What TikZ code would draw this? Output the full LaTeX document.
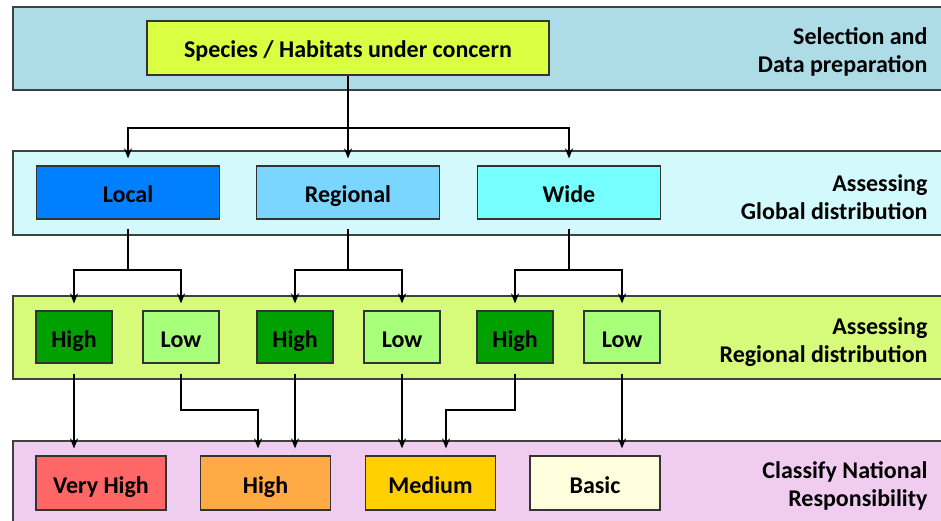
\documentclass[tikz,border=0pt]{standalone}
\usepackage{fontspec}
\setmainfont{Carlito}
\usetikzlibrary{arrows.meta}
\definecolor{bandA}{RGB}{173,220,230}
\definecolor{bandB}{RGB}{210,250,252}
\definecolor{bandC}{RGB}{214,250,122}
\definecolor{bandD}{RGB}{240,205,240}
\definecolor{species}{RGB}{218,255,66}
\definecolor{local}{RGB}{0,128,255}
\definecolor{regional}{RGB}{122,213,255}
\definecolor{wide}{RGB}{117,255,255}
\definecolor{highgreen}{RGB}{0,160,0}
\definecolor{lowgreen}{RGB}{168,255,122}
\definecolor{veryhigh}{RGB}{255,102,102}
\definecolor{highorange}{RGB}{255,170,68}
\definecolor{medium}{RGB}{255,208,0}
\definecolor{basic}{RGB}{255,255,221}
\begin{document}
\begin{tikzpicture}[x=1pt, y=-1pt, line join=miter,
	band/.style={draw=black!75, line width=1.3pt},
	box/.style={draw=black!80, line width=1.2pt, font=\fontsize{24}{28}\selectfont\bfseries, inner sep=0pt, text height=30pt, text depth=10pt},
	gbox/.style={box, minimum width=183pt, minimum height=53pt},
	rbox/.style={box, minimum width=76pt, minimum height=52pt},
	cbox/.style={box, minimum width=130pt, minimum height=54pt},
	tag/.style={anchor=east, align=right, font=\fontsize{24}{28}\selectfont\bfseries},
	link/.style={line width=1.8pt},
	arr/.style={link, -{Stealth[length=10pt, width=8pt]}, shorten >=7pt}]
	\useasboundingbox (0,0) rectangle (941,521);
	% bands
	\filldraw[band, fill=bandA] (13,7) rectangle (960,90);
	\filldraw[band, fill=bandB] (13,151) rectangle (960,235);
	\filldraw[band, fill=bandC] (13,296) rectangle (960,379);
	\filldraw[band, fill=bandD] (13,441) rectangle (960,540);
	\node[tag] (tA) at (931,52) {Selection and\\Data preparation};
	\node[tag] (tB) at (931,197) {Assessing\\Global distribution};
	\node[tag] (tC) at (931,342) {Assessing\\Regional distribution};
	\node[tag] (tD) at (931,486) {Classify National\\Responsibility};
	% boxes
	\node[box, fill=species, minimum width=402pt, minimum height=54pt] (spc) at (348,48) {Species / Habitats under concern};
	\node[gbox, fill=local] (loc) at (128,192.5) {Local};
	\node[gbox, fill=regional] (reg) at (348,192.5) {Regional};
	\node[gbox, fill=wide] (wid) at (569,192.5) {Wide};
	\node[rbox, fill=highgreen] (h1) at (74,337) {High};
	\node[rbox, fill=lowgreen] (l1) at (181,337) {Low};
	\node[rbox, fill=highgreen] (h2) at (295,337) {High};
	\node[rbox, fill=lowgreen] (l2) at (402,337) {Low};
	\node[rbox, fill=highgreen] (h3) at (515,337) {High};
	\node[rbox, fill=lowgreen] (l3) at (622,337) {Low};
	\node[cbox, fill=veryhigh] (vh) at (101,483) {Very High};
	\node[cbox, fill=highorange] (hi) at (265.5,483) {High};
	\node[cbox, fill=medium] (md) at (430.5,483) {Medium};
	\node[cbox, fill=basic] (bs) at (595,483) {Basic};
	% connectors
	\coordinate (j0) at (348,128);
	\coordinate (j1) at (128,270);
	\coordinate (j2) at (348,270);
	\coordinate (j3) at (569,270);
	\coordinate (m1) at (258,410);
	\coordinate (m2) at (446,410);
	\draw[link] (spc.south) -- (j0);
	\draw[arr] (j0) -| (loc.north);
	\draw[arr] (j0) -- (reg.north);
	\draw[arr] (j0) -| (wid.north);
	\foreach \g/\n in {1/loc, 2/reg, 3/wid}
		\draw[link, shorten <=9pt] (\n.south) -- (j\g);
	\draw[arr] (j1) -| (h1.north);
	\draw[arr] (j1) -| (l1.north);
	\draw[arr] (j2) -| (h2.north);
	\draw[arr] (j2) -| (l2.north);
	\draw[arr] (j3) -| (h3.north);
	\draw[arr] (j3) -| (l3.north);
	\draw[arr, shorten <=10pt] (h1.south) -- (h1.south |- vh.north);
	\draw[arr, shorten <=10pt] (l1.south) |- (m1) -- (m1 |- hi.north);
	\draw[arr, shorten <=10pt] (h2.south) -- (h2.south |- hi.north);
	\draw[arr, shorten <=10pt] (l2.south) -- (l2.south |- md.north);
	\draw[arr, shorten <=10pt] (h3.south) |- (m2) -- (m2 |- md.north);
	\draw[arr, shorten <=10pt] (l3.south) -- (l3.south |- bs.north);
\end{tikzpicture}
\end{document}
